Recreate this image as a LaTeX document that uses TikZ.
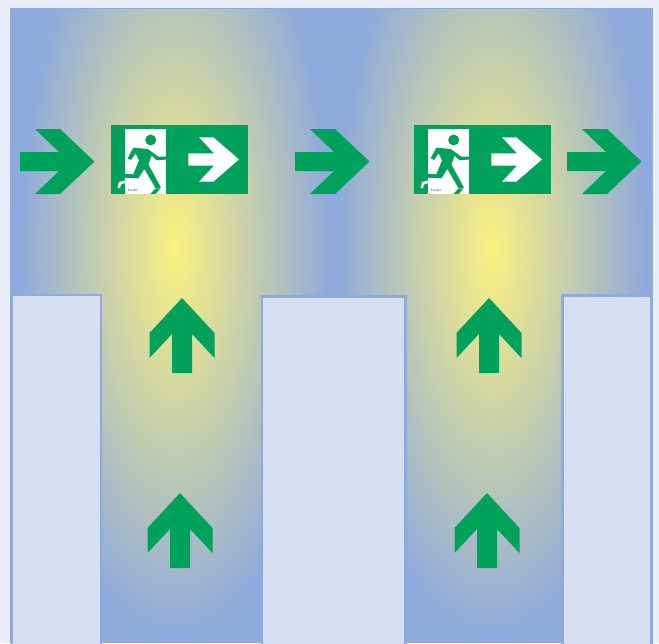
\documentclass[tikz,border=0pt]{standalone}
\usepackage{fontspec}
\setmainfont{Liberation Sans}
\definecolor{pagebg}{HTML}{E9EEF8}
\definecolor{floorblue}{HTML}{8FAADC}
\definecolor{glowyellow}{HTML}{FAF181}
\definecolor{blockfill}{HTML}{D6DEF1}
\definecolor{signgreen}{HTML}{00A25B}
\pgfdeclareradialshading{glow}{\pgfpointorigin}{color(0bp)=(glowyellow); color(25bp)=(floorblue); color(50bp)=(floorblue)}
\tikzset{
  block/.style={fill=blockfill,draw=floorblue,line width=2.4pt},
  glowspot/.style={shading=glow},
  rightarrow/.pic={\fill[signgreen] (0,-9.5)--(39,-9.5)--(15,-32.5)--(40,-32.5)--(74.5,0)--(40,32.5)--(15,32.5)--(39,9.5)--(0,9.5)--cycle;},
  uparrow/.pic={\fill[signgreen] (0,0)--(32.5,35)--(32.5,60)--(10,36)--(10,75)--(-10,75)--(-10,36)--(-32.5,60)--(-32.5,35)--cycle;},
  exitsign/.pic={
    \fill[signgreen] (0,0) rectangle (137,69);
    \fill[white] (13.5,4) rectangle (54.5,69);
    \fill[white] (6.5,63)--(8,57)--(14,55.5)--(14,58)--(10,59.5)--(9,63)--cycle;
    \begin{scope}[shift={(4,0)},x=0.3333pt,y=-0.3333pt]
      \fill[signgreen] (107,45) circle[radius=16.5];
      \fill[signgreen] (38,100)--(55,68)--(98,72)--(130,95)--(160,95)--(160,103)--(125,106)--(110,92)--(100,118)--(138,188)--(122,190)--(88,132)--(70,160)--(28,158)--(28,146)--(55,148)--(72,106)--(62,85)--(48,105)--cycle;
      \fill[signgreen] (106,207)--(122,190)--(136,190)--(122,207)--cycle;
    \end{scope}
    \node[text=signgreen!70!black,font=\fontsize{3.1}{3.5}\selectfont,inner sep=0pt] at (22,65.5) {Exsaler};
    \fill[white] (77.3,28.3)--(103,28.3)--(88,12.3)--(102.3,12.3)--(128,34.4)--(102.3,56.7)--(88,56.7)--(103,40.7)--(77.3,40.7)--cycle;
  }
}
\begin{document}
\begin{tikzpicture}[x=1pt,y=-1pt]
  \useasboundingbox (0,0) rectangle (659,643);
  \fill[pagebg] (0,0) rectangle (659,643);
  \fill[floorblue] (10,8) rectangle (653,643);
  \begin{scope}
    \clip (11,9) rectangle (333,643);
    \shade[glowspot] (175,248) ellipse[x radius=155,y radius=390];
  \end{scope}
  \begin{scope}
    \clip (333,9) rectangle (652,643);
    \shade[glowspot] (492,248) ellipse[x radius=155,y radius=390];
  \end{scope}
  \begin{scope}
    \clip (0,0) rectangle (659,643);
    \draw[block] (12,295) rectangle (101,650);
    \draw[block] (262,296.5) rectangle (405.5,650);
    \draw[block] (562.5,295.5) rectangle (651.5,650);
  \end{scope}
  \pic at (20,161.5) {rightarrow};
  \pic at (295,161.5) {rightarrow};
  \pic at (567,161.5) {rightarrow};
  \pic at (111,125) {exitsign};
  \pic at (414,125) {exitsign};
  \pic at (182,298) {uparrow};
  \pic at (489,298) {uparrow};
  \pic at (180,493) {uparrow};
  \pic at (487,493) {uparrow};
\end{tikzpicture}
\end{document}
